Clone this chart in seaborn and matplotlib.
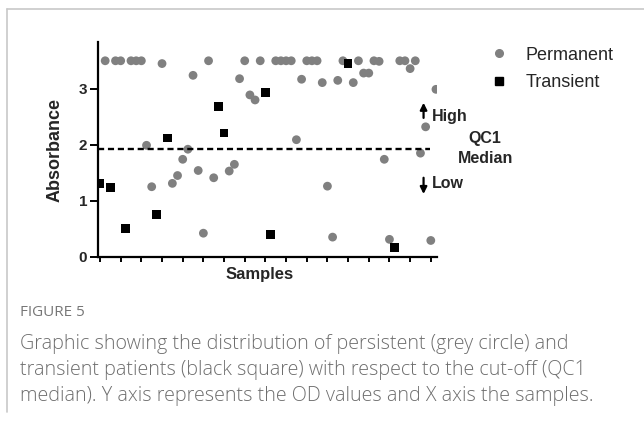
import matplotlib
matplotlib.use("Agg")
import matplotlib.pyplot as plt
import seaborn as sns
import pandas as pd
from matplotlib.lines import Line2D

# permanent (grey circles): sample index and absorbance
perm_x = [1, 3, 4, 6, 7, 8, 9, 10, 12, 14, 15, 16, 17, 18, 19, 20, 21, 22,
          25, 26, 27, 28, 29, 30, 31, 34, 35, 36, 37, 38, 39, 40, 41, 42, 43,
          44, 45, 46, 47, 49, 50, 51, 52, 53, 54, 55, 56, 58, 59, 60, 61, 62,
          63, 64, 65]
perm_y = [3.5, 3.5, 3.5, 3.5, 3.5, 3.5, 1.99, 1.25, 3.45, 1.31, 1.45, 1.74,
          1.92, 3.24, 1.54, 0.42, 3.5, 1.41, 1.53, 1.65, 3.18, 3.5, 2.89, 2.80,
          3.5, 3.5, 3.5, 3.5, 3.5, 2.09, 3.17, 3.5, 3.5, 3.5, 3.11, 1.26, 0.35,
          3.15, 3.5, 3.11, 3.5, 3.28, 3.28, 3.5, 3.49, 1.74, 0.31, 3.5, 3.5,
          3.36, 3.5, 1.85, 2.32, 0.29, 2.99]

# transient (black squares)
trans_x = [0, 2, 5, 11, 13, 23, 24, 32, 33, 48, 57]
trans_y = [1.31, 1.23, 0.51, 0.75, 2.12, 2.68, 2.21, 2.93, 0.39, 3.45, 0.16]

cutoff = 1.93  # QC1 median

caption_title = "FIGURE 5"
caption_lines = [
    "Graphic showing the distribution of persistent (grey circle) and",
    "transient patients (black square) with respect to the cut-off (QC1",
    "median). Y axis represents the OD values and X axis the samples.",
]

df = pd.DataFrame({
    "sample": perm_x + trans_x,
    "absorbance": perm_y + trans_y,
    "group": ["Permanent"] * len(perm_x) + ["Transient"] * len(trans_x),
})

sns.set_theme(style="ticks")
plt.rcParams["font.family"] = ["Liberation Sans", "DejaVu Sans"]

W, H = 644, 421
fig = plt.figure(figsize=(W / 100, H / 100), dpi=100)
ax = fig.add_axes([98.3 / W, 1 - 256.7 / H, (437 - 98.3) / W, (256.7 - 42.3) / H])

sns.scatterplot(data=df, x="sample", y="absorbance", hue="group", style="group",
                palette={"Permanent": "#808080", "Transient": "black"},
                markers={"Permanent": "o", "Transient": "s"},
                s=40, linewidth=0, legend=False, ax=ax)

ax.plot([-0.33, 63.8], [cutoff, cutoff], color="black", lw=1.7,
        linestyle=(0, (2.6, 1.6)))

ax.set_xlim(-0.33, 65.2)
ax.set_ylim(0, 3.83)
ax.set_xticks(range(0, 65, 4))
ax.set_xticklabels([])
ax.set_yticks([0, 1, 2, 3])
ax.set_yticklabels(["0", "1", "2", "3"], fontweight="bold", fontsize=11)
ax.tick_params(axis="y", length=6, width=1.4, pad=2, color="black")
ax.tick_params(axis="x", length=3.3, width=1.4, color="black")
sns.despine(ax=ax)
for sp in ("left", "bottom"):
    ax.spines[sp].set_linewidth(1.6)
    ax.spines[sp].set_color("black")
ax.set_xlabel("")
ax.set_ylabel("")

ax.text(-0.128, 0.5, "Absorbance", transform=ax.transAxes, rotation=90,
        ha="center", va="center", fontsize=13, fontweight="bold")
ax.text(0.476, -0.085, "Samples", transform=ax.transAxes,
        ha="center", va="center", fontsize=12, fontweight="bold")

# high / low arrows and cut-off label
ax.annotate("", xy=(62.6, 2.8), xytext=(62.6, 2.43),
            arrowprops=dict(arrowstyle="-|>", color="black", lw=1.6,
                            mutation_scale=10), annotation_clip=False)
ax.annotate("", xy=(62.6, 1.07), xytext=(62.6, 1.46),
            arrowprops=dict(arrowstyle="-|>", color="black", lw=1.6,
                            mutation_scale=10), annotation_clip=False)
ax.text(64.2, 2.51, "High", ha="left", va="center", fontsize=11.5,
        fontweight="bold", clip_on=False)
ax.text(64.2, 1.30, "Low", ha="left", va="center", fontsize=11.5,
        fontweight="bold", clip_on=False)
ax.text(74.5, 2.12, "QC1", ha="center", va="center", fontsize=11.5,
        fontweight="bold", clip_on=False)
ax.text(74.5, 1.75, "Median", ha="center", va="center", fontsize=11.5,
        fontweight="bold", clip_on=False)

handles = [
    Line2D([], [], marker="o", color="#808080", linestyle="", markersize=5.5),
    Line2D([], [], marker="s", color="black", linestyle="", markersize=5.5),
]
fig.legend(handles, ["Permanent", "Transient"], loc="upper left",
           bbox_to_anchor=(490 / W, 1 - 46.6 / H), frameon=False,
           fontsize=13, handlelength=1.0, handletextpad=0.95,
           labelspacing=0.57, borderpad=0, borderaxespad=0)

# caption frame and text
fig.add_artist(Line2D([7 / W, 7 / W], [1 - 9 / H, 1 - 412 / H],
                      color="#c8c8c8", lw=1.2, transform=fig.transFigure))
fig.add_artist(Line2D([7 / W, 1], [1 - 9 / H, 1 - 9 / H],
                      color="#c8c8c8", lw=1.2, transform=fig.transFigure))

cap_font = ["Open Sans", "DejaVu Sans"]
fig.text(20 / W, 1 - 312 / H, caption_title, ha="left", va="center",
         fontsize=11, color="#777777", family=cap_font)
for i, line in enumerate(caption_lines):
    fig.text(20 / W, 1 - (344 + 26 * i) / H, line, ha="left", va="center",
             fontsize=14.2, color="#6e6e6e", family=cap_font, fontweight="light")

fig.savefig("out.png", dpi=100)
